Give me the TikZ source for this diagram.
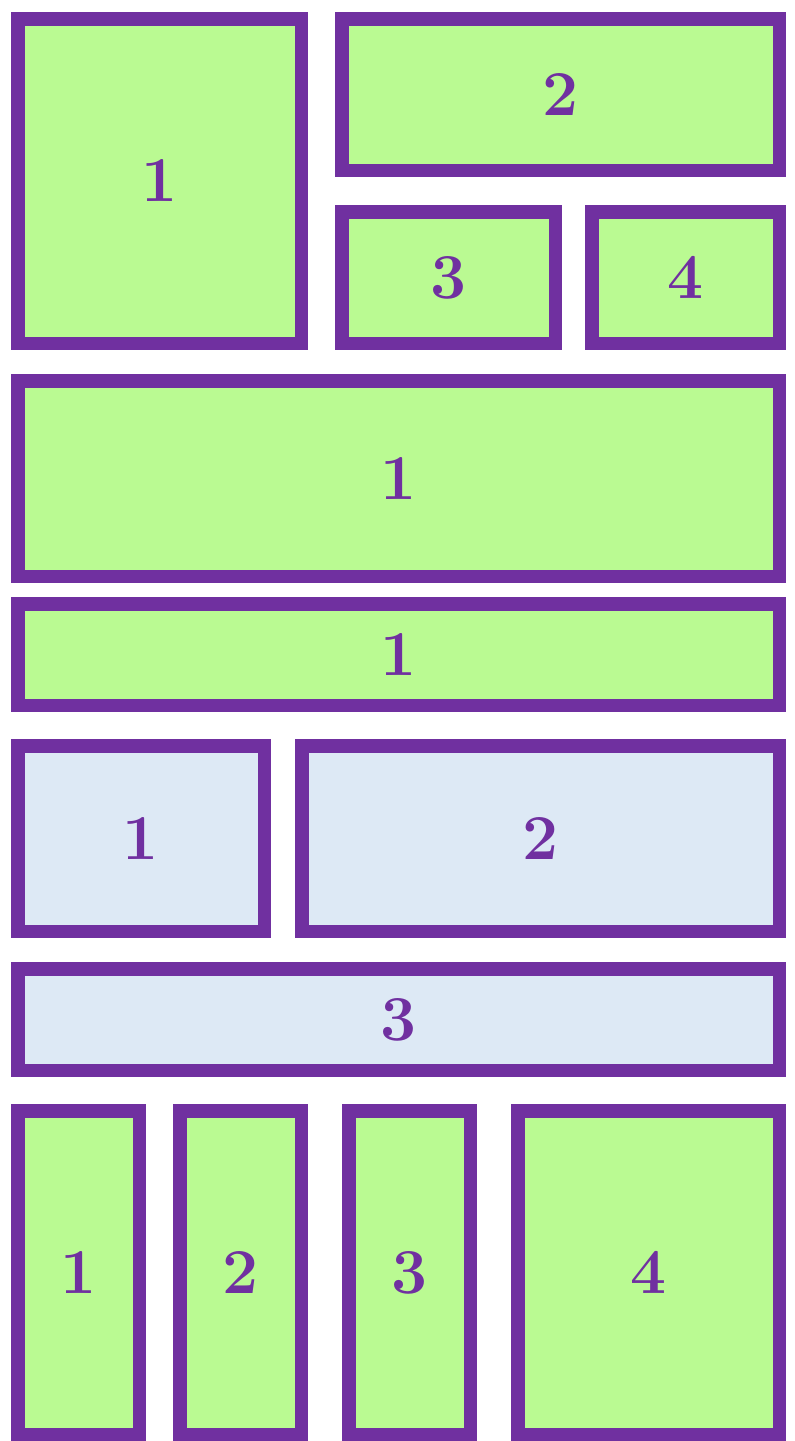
\documentclass[tikz,border=0pt]{standalone}
\usepackage{tikz}
\definecolor{tilegreen}{RGB}{186,250,146}
\definecolor{tileblue}{RGB}{221,233,245}
\definecolor{tilepurple}{RGB}{112,48,160}
\newcommand{\tile}[7]{\node[#1, minimum width={(#5-#3)*0.5pt-6.75pt}, minimum height={(#6-#4)*0.5pt-6.75pt}] (#2) at ({(#3+#5)/2},{(#4+#6)/2}) {#7};}
\begin{document}
\begin{tikzpicture}[x=0.5pt, y=-0.5pt, line join=miter, font=\fontsize{32}{38}\selectfont\bfseries,
  gbox/.style={draw=tilepurple, fill=tilegreen, line width=6.75pt, text=tilepurple, inner sep=0pt, outer sep=0pt},
  bbox/.style={gbox, fill=tileblue}]
			\useasboundingbox (0,0) rectangle (794,1441);
			\tile{gbox}{a1}{11}{12}{308}{350}{1}
			\tile{gbox}{a2}{335}{12}{786}{177}{2}
			\tile{gbox}{a3}{335}{205}{562}{350}{3}
			\tile{gbox}{a4}{585}{205}{786}{350}{4}
			\tile{gbox}{b1}{11}{374}{786}{583}{1}
			\tile{gbox}{c1}{11}{597}{786}{712}{1}
			\tile{bbox}{d1}{11}{739}{271}{938}{1}
			\tile{bbox}{d2}{295}{739}{786}{938}{2}
			\tile{bbox}{e3}{11}{962}{786}{1077}{3}
			\tile{gbox}{f1}{11}{1104}{146}{1441}{1}
			\tile{gbox}{f2}{173}{1104}{308}{1441}{2}
			\tile{gbox}{f3}{342}{1104}{477}{1441}{3}
			\tile{gbox}{f4}{511}{1104}{786}{1441}{4}
		\end{tikzpicture}
\end{document}
